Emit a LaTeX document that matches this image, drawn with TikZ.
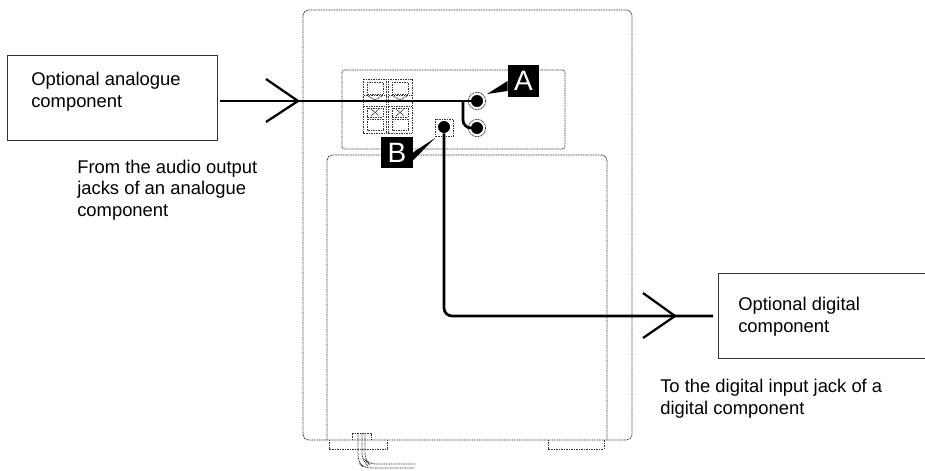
\documentclass[tikz,border=0pt]{standalone}
\usepackage{fontspec}
\setmainfont{Liberation Sans}
\usetikzlibrary{positioning}
\definecolor{dotgray}{gray}{0.2}
\tikzset{
    outline/.style={draw=dotgray,dash pattern=on 0.75pt off 0.5pt,line width=0.6pt},
    wire/.style={line width=2pt,rounded corners=6pt},
    chevron/.style={line width=1.7pt},
    jack/.style={circle,fill=black,inner sep=0pt,minimum size=9pt},
    ring/.style={circle,outline,inner sep=0pt,minimum size=13pt},
    partbox/.style={draw=black!80,line width=0.6pt,minimum width=158pt,minimum height=63.75pt,outer sep=0pt},
    tag/.style={fill=black,text=white,inner sep=0pt,minimum size=23.5pt,font=\fontsize{21}{21}\selectfont},
    note/.style={align=left,anchor=west,inner sep=0pt,font=\fontsize{13.8}{16.3}\selectfont},
}
\begin{document}
\begin{tikzpicture}[x=0.75pt,y=-0.75pt]
    \useasboundingbox (0,0) rectangle (925,471);
    %% cabinet
    \draw[outline,rounded corners=4pt] (303,440) -- (303,10) -- (632,10) -- (632,440) -- cycle;
    \draw[outline,rounded corners=4pt] (327,440) -- (327,155) -- (607,155) -- (607,440);
    \draw[outline,rounded corners=2pt] (342,70) rectangle (565,149);
    %% feet
    \draw[outline] (329,440) -- (329,449) -- (387,449) -- (387,440);
    \draw[outline] (548,440) -- (548,449) -- (604,449) -- (604,440);
    %% power cord
    \draw[outline] (352,440) -- (352,433) -- (371,433) -- (371,440);
    \draw[outline,rounded corners=5pt] (358,433) -- (358,462) -- (364,468) -- (415,468);
    \draw[outline,rounded corners=5pt] (362,433) -- (362,460) -- (368,466);
    \draw[outline,rounded corners=5pt] (365,433) -- (365,460) -- (369,464) -- (415,464);
    %% terminals
    \draw[outline] (363,79) rectangle (386,133);
    \draw[outline] (388,79) rectangle (412,133);
    \foreach \col in {367,392} {
        \draw[outline] (\col,82) rectangle ++(16,12);
        \draw[outline] (\col,108) rectangle ++(16,9);
        \draw[outline] (\col,119) rectangle ++(16,11);
        \draw[outline] (\col-3,95) -- ++(22,0);
        \draw[outline] (\col-3,106) -- ++(22,0);
        \draw[outline] (\col+1,96) -- ++(7,4) -- ++(7,-4);
        \draw[outline] (\col+4,109) -- ++(8,7);
        \draw[outline] (\col+4,116) -- ++(8,-7);
    }
    %% jacks
    \node[ring] (ringa) at (477,101) {};
    \node[ring] (ringb) at (477,128) {};
    \node[jack] (jacka) at (477,101) {};
    \node[jack] (jackb) at (477,128) {};
    \node[outline,draw,minimum size=13pt,inner sep=0pt] (digibox) at (444.5,128) {};
    \node[jack] (digijack) at (444,127) {};
    %% boxes and labels
    \node[partbox] (analogue) at (112.5,97.5) {};
    \node[partbox,minimum width=155.25pt] (digital) at (821.5,315.5) {};
    \node[note] (analoguetxt) at (31,92) {Optional analogue\\component};
    \node[note] (digitaltxt) at (738,316.5) {Optional digital\\component};
    \node[note] (fromtxt) at (77,190) {From the audio output\\jacks of an analogue\\component};
    \node[note] (totxt) at (660,399) {To the digital input jack of a\\digital component};
    %% tags
    \node[tag] (taga) at (523.5,81) {A};
    \node[tag] (tagb) at (397,152.5) {B};
    \fill (487,94) -- (taga.west) -- ++(0,10) -- cycle;
    \fill (435,138) -- (tagb.east) -- ++(0,8) -- cycle;
    %% wires
    \coordinate (tipa) at (298,101);
    \coordinate (tipb) at (675,316);
    \draw[wire] (analogue.east |- jacka) ++(2,0) -- (jacka);
    \draw[wire] (463,101) -- (463,128) -- (jackb);
    \draw[wire] (digijack) -- (444,316) -- (713,316);
    \draw[chevron] (266,79) -- (tipa) -- (266,122);
    \draw[chevron] (643,293) -- (tipb) -- (643,338);
\end{tikzpicture}
\end{document}
